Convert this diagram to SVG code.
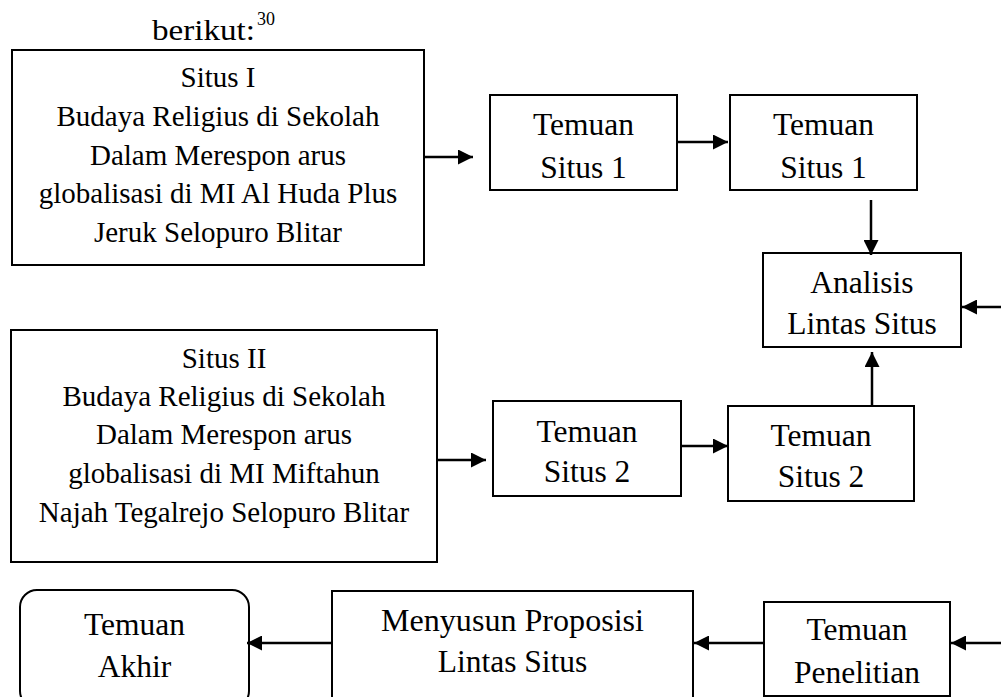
<svg xmlns="http://www.w3.org/2000/svg" width="1001" height="697" viewBox="0 0 1001 697">
<style>
  .box { fill: #ffffff; stroke: #000000; stroke-width: 2; }
  .t { font-family: "Liberation Serif", "Times New Roman", serif; fill: #000000; text-anchor: middle; }
  .s29 { font-size: 29px; }
  .s31 { font-size: 31.5px; }
  .con line { stroke: #000000; stroke-width: 2.5; marker-end: url(#ah); }
</style>
<defs>
  <marker id="ah" markerUnits="userSpaceOnUse" markerWidth="15" markerHeight="15" refX="15" refY="7.5" orient="auto">
    <path d="M0,0 L15,7.5 L0,15 Z" fill="#000000"/>
  </marker>
</defs>
<rect width="1001" height="697" fill="#ffffff"/>
<g id="heading">
  <text x="152" y="40" font-family="Liberation Serif, serif" font-size="30" textLength="103" lengthAdjust="spacingAndGlyphs">berikut:</text>
  <text x="257" y="25" font-family="Liberation Serif, serif" font-size="18">30</text>
</g>
<g id="situs1">
  <rect class="box" x="12" y="50" width="412" height="215"/>
  <text class="t s29" x="218" y="87">Situs I</text>
  <text class="t s29" x="218" y="126">Budaya Religius di Sekolah</text>
  <text class="t s29" x="218" y="165">Dalam Merespon arus</text>
  <text class="t s29" x="218" y="203">globalisasi di MI Al Huda Plus</text>
  <text class="t s29" x="218" y="242">Jeruk Selopuro Blitar</text>
</g>
<g id="temuan-situs1a">
  <rect class="box" x="490" y="95" width="187" height="95"/>
  <text class="t s31" x="583.5" y="135">Temuan</text>
  <text class="t s31" x="583.5" y="178">Situs 1</text>
</g>
<g id="temuan-situs1b">
  <rect class="box" x="730" y="95" width="187" height="95"/>
  <text class="t s31" x="823.5" y="135">Temuan</text>
  <text class="t s31" x="823.5" y="178">Situs 1</text>
</g>
<g id="analisis">
  <rect class="box" x="763" y="253" width="198" height="94"/>
  <text class="t s31" x="862" y="293">Analisis</text>
  <text class="t s31" x="862" y="334">Lintas Situs</text>
</g>
<g id="situs2">
  <rect class="box" x="11" y="330" width="426" height="232"/>
  <text class="t s29" x="224" y="368">Situs II</text>
  <text class="t s29" x="224" y="406">Budaya Religius di Sekolah</text>
  <text class="t s29" x="224" y="444">Dalam Merespon arus</text>
  <text class="t s29" x="224" y="483">globalisasi di MI Miftahun</text>
  <text class="t s29" x="224" y="522">Najah Tegalrejo Selopuro Blitar</text>
</g>
<g id="temuan-situs2a">
  <rect class="box" x="493" y="401" width="188" height="95"/>
  <text class="t s31" x="587" y="442">Temuan</text>
  <text class="t s31" x="587" y="482">Situs 2</text>
</g>
<g id="temuan-situs2b">
  <rect class="box" x="728" y="406" width="186" height="95"/>
  <text class="t s31" x="821" y="446">Temuan</text>
  <text class="t s31" x="821" y="487">Situs 2</text>
</g>
<g id="temuan-akhir">
  <rect class="box" x="20" y="590" width="229" height="118" rx="17" ry="17"/>
  <text class="t s31" x="134.5" y="635">Temuan</text>
  <text class="t s31" x="134.5" y="677">Akhir</text>
</g>
<g id="menyusun">
  <rect class="box" x="332" y="591" width="361" height="120"/>
  <text class="t s31" x="512.5" y="631" textLength="263" lengthAdjust="spacingAndGlyphs">Menyusun Proposisi</text>
  <text class="t s31" x="512.5" y="672">Lintas Situs</text>
</g>
<g id="temuan-penelitian">
  <rect class="box" x="764" y="602" width="186" height="94"/>
  <text class="t s31" x="857" y="640">Temuan</text>
  <text class="t s31" x="857" y="683">Penelitian</text>
</g>
<g id="connectors" class="con">
  <line x1="424" y1="157" x2="473" y2="157"/>
  <line x1="678" y1="142" x2="728" y2="142"/>
  <line x1="871" y1="200" x2="871" y2="255"/>
  <line x1="1001" y1="307" x2="962" y2="307"/>
  <line x1="437" y1="460" x2="486" y2="460"/>
  <line x1="682" y1="446" x2="728" y2="446"/>
  <line x1="872" y1="406" x2="872" y2="352"/>
  <line x1="1001" y1="643" x2="951" y2="643"/>
  <line x1="764" y1="643" x2="694" y2="643"/>
  <line x1="332" y1="643" x2="247" y2="643"/>
</g>
</svg>
